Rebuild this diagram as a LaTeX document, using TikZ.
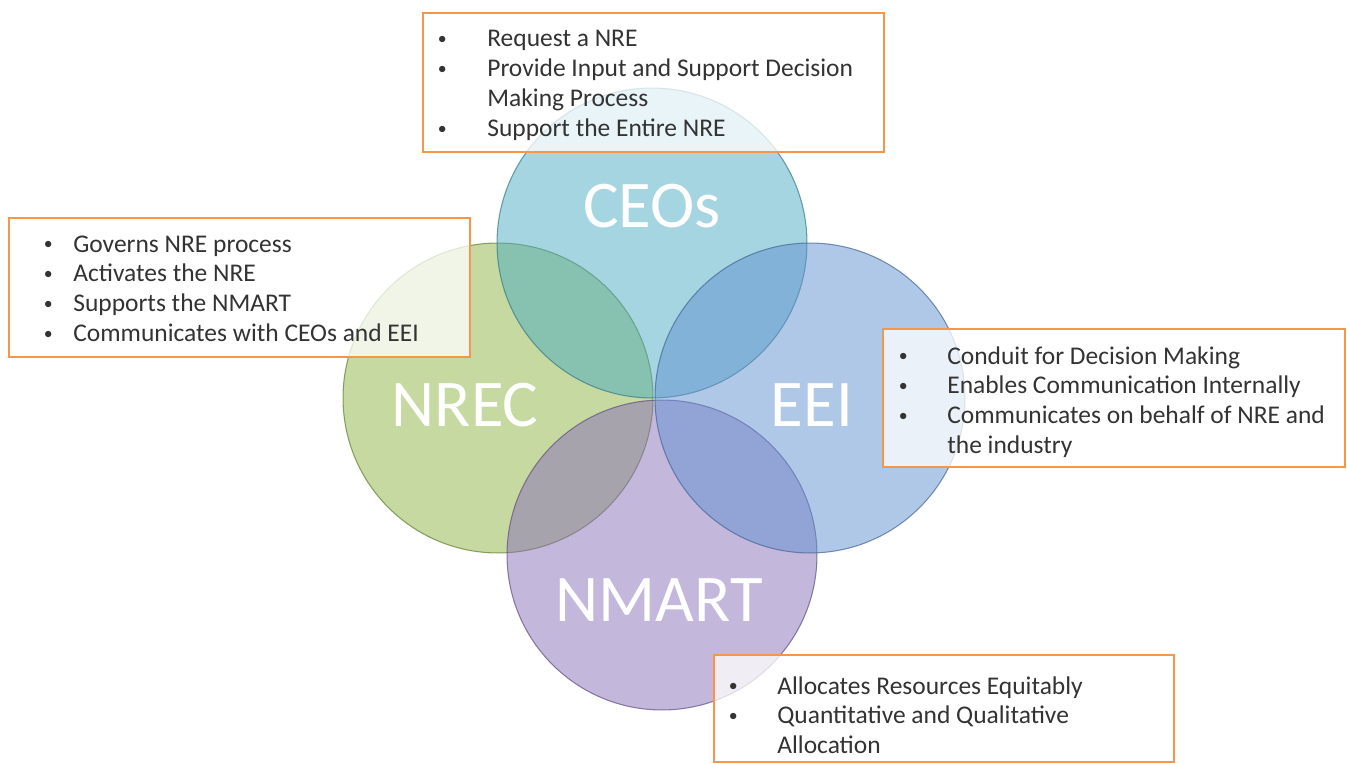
\documentclass[tikz,border=0pt]{standalone}
\usepackage{fontspec}
\usepackage{graphicx}
\setmainfont{Carlito}
\usetikzlibrary{fit}

\definecolor{ceosfill}{RGB}{75,171,193}
\definecolor{nrecfill}{RGB}{139,179,65}
\definecolor{eeifill}{RGB}{97,145,209}
\definecolor{nmartfill}{RGB}{137,111,185}
\definecolor{noteorange}{RGB}{247,150,70}

\newcommand{\bul}{\makebox[0pt]{\raisebox{0.08em}{\scalebox{0.7}{\textbullet}}}}
\newcommand{\notelist}[2]{\begin{tabular}[t]{@{}p{#1}@{}l@{}}#2\end{tabular}}

\tikzset{
  venn/.style={fill opacity=0.5, draw opacity=0.7, line width=0.6pt},
  vennlabel/.style={text=white, inner sep=0pt, font=\fontsize{38}{40}\selectfont},
  notebox/.style={draw=noteorange, line width=1.6pt, fill=white, fill opacity=0.75, inner sep=0pt},
  notetext/.style={anchor=base west, inner sep=0pt, text=black!80, font=\fontsize{14.5}{17}\selectfont},
}

\begin{document}
\begin{tikzpicture}[x=0.02cm, y=-0.02cm]
\useasboundingbox (0,0) rectangle (1347,764);

\coordinate (ceos) at (652,243);
\coordinate (nrec) at (498,398);
\coordinate (eei) at (810,398);
\coordinate (nmart) at (662,555);

% the four circles
\filldraw[venn, fill=nrecfill, draw=nrecfill!70!black] (nrec) circle (3.1cm);
\filldraw[venn, fill=nmartfill, draw=nmartfill!70!black] (nmart) circle (3.1cm);
\filldraw[venn, fill=ceosfill, draw=ceosfill!70!black] (ceos) circle (3.1cm);
\filldraw[venn, fill=eeifill, draw=eeifill!70!black] (eei) circle (3.1cm);

\node[vennlabel] (ceoslabel) at (652,206) {CEOs};
\node[vennlabel] (nreclabel) at (465,405) {NREC};
\node[vennlabel] (eeilabel) at (812,405) {EEI};
\node[vennlabel] (nmartlabel) at (659,600) {NMART};

% notes
\node[notebox, fit={(423,13) (884,152)}] (ceosnote) {};
\node[notetext] (ceostext) at (442,47) {\notelist{0.9cm}{%
  \bul & Request a NRE\\
  \bul & Provide Input and Support Decision\\
       & Making Process\\
  \bul & Support the Entire NRE}};

\node[notebox, fit={(9,218) (470,357)}] (nrecnote) {};
\node[notetext] (nrectext) at (48,252) {\notelist{0.5cm}{%
  \bul & Governs NRE process\\
  \bul & Activates the NRE\\
  \bul & Supports the NMART\\
  \bul & Communicates with CEOs and EEI}};

\node[notebox, fit={(883,329) (1345,467)}] (eeinote) {};
\node[notetext] (eeitext) at (903,364) {\notelist{0.88cm}{%
  \bul & Conduit for Decision Making\\
  \bul & Enables Communication Internally\\
  \bul & Communicates on behalf of NRE and\\
       & the industry}};

\node[notebox, fit={(714,655) (1174,762)}] (nmartnote) {};
\node[notetext] (nmarttext) at (733,694) {\notelist{0.88cm}{%
  \bul & Allocates Resources Equitably\\
  \bul & Quantitative and Qualitative\\
       & Allocation}};
\end{tikzpicture}
\end{document}
